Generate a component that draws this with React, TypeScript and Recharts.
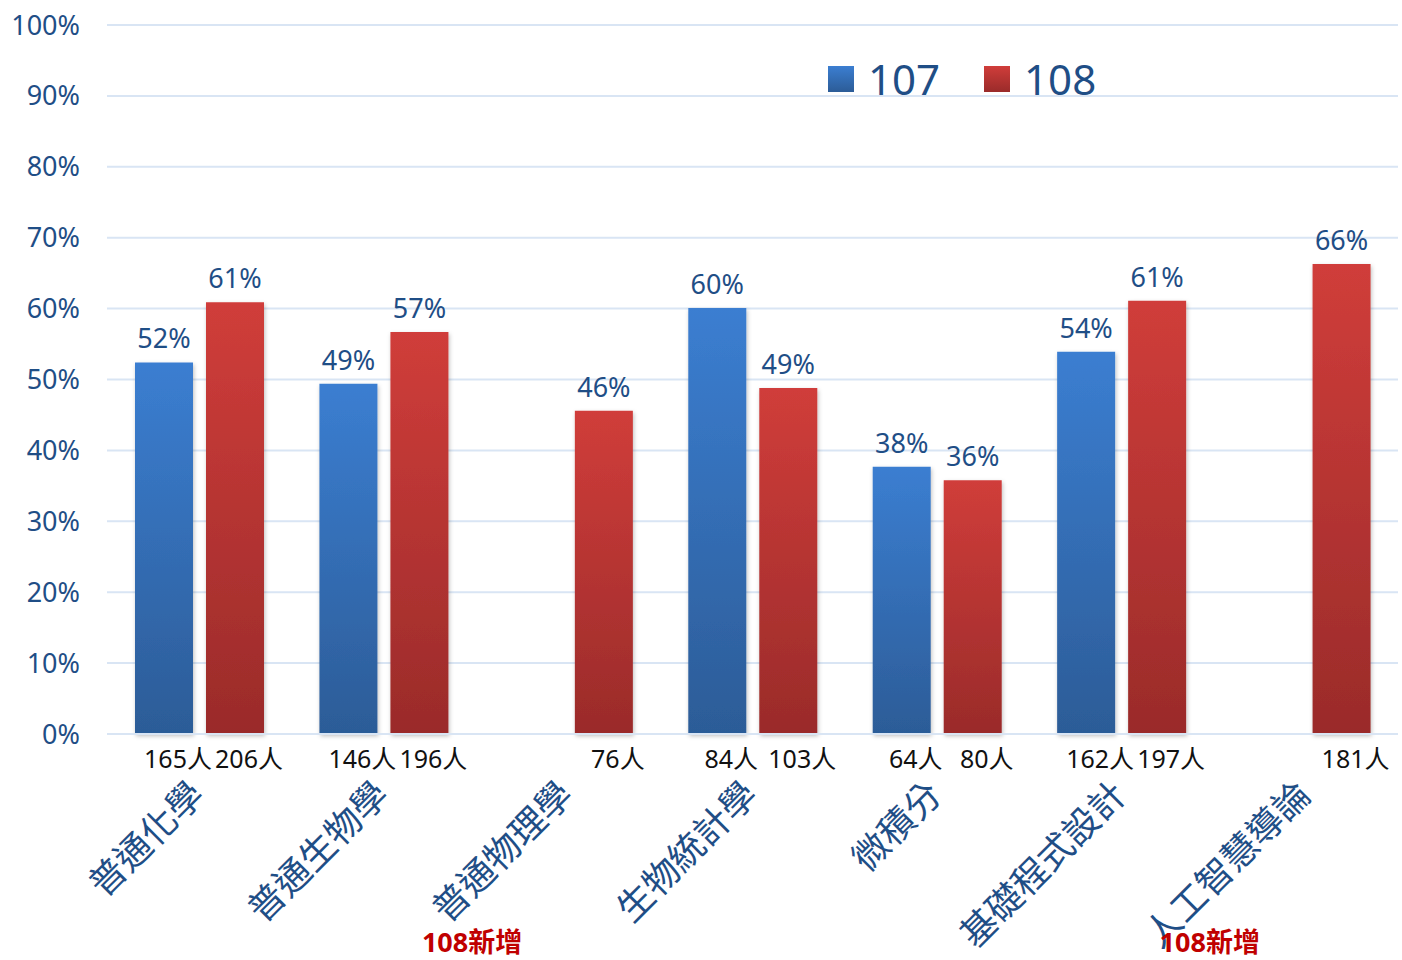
import { BarChart, Bar, XAxis, YAxis, CartesianGrid, LabelList } from 'recharts'

const courses = ['普通化學', '普通生物學', '普通物理學', '生物統計學', '微積分', '基礎程式設計', '人工智慧導論']
const pass107 = [52.4, 49.4, null, 60.1, 37.7, 53.9, null]
const pass108 = [60.9, 56.7, 45.6, 48.8, 35.8, 61.1, 66.3]
const students107 = [165, 146, null, 84, 64, 162, null]
const students108 = [206, 196, 76, 103, 80, 197, 181]
const newIn108 = [false, false, true, false, false, false, true]
const yTicks = [0, 10, 20, 30, 40, 50, 60, 70, 80, 90, 100]

const data = courses.map((name, i) => ({
  name,
  y107: pass107[i],
  y108: pass108[i],
  n107: students107[i],
  n108: students108[i],
}))

const FONT = '"Noto Sans", "Noto Sans CJK TC", sans-serif'
const NAVY = '#1f4e86'

function PctLabel(props: any) {
  const { x, y, width, value } = props
  if (value == null) return null
  return (
    <text x={x + width / 2} y={y - 14} textAnchor="middle" fill={NAVY} fontSize={27} fontFamily={FONT}>
      {Math.round(value)}%
    </text>
  )
}

function CountLabel(props: any) {
  const { x, y, width, height, value } = props
  if (value == null) return null
  return (
    <text x={x + width / 2 + 14} y={y + height + 34} textAnchor="middle" fill="#111" fontSize={25} fontFamily={FONT}>
      {value}人
    </text>
  )
}

function CourseTick(props: any) {
  const { x, y, payload, index } = props
  const ax = x + 7
  const ay = y + 63
  return (
    <g>
      <text
        x={ax}
        y={ay}
        textAnchor="end"
        fill={NAVY}
        fontSize={36}
        fontFamily={FONT}
        transform={`rotate(-45 ${ax} ${ay})`}
      >
        {payload.value}
      </text>
      {newIn108[index] && (
        <text x={x - 96} y={y + 218} textAnchor="middle" fill="#c00000" fontSize={27} fontWeight="bold" fontFamily={FONT}>
          108新增
        </text>
      )}
    </g>
  )
}

function LegendBox() {
  const items = [
    { label: '107', fill: 'url(#bar107)' },
    { label: '108', fill: 'url(#bar108)' },
  ]
  return (
    <div style={{ position: 'absolute', left: 828, top: 58, display: 'flex', gap: 44, fontFamily: FONT }}>
      {items.map(it => (
        <div key={it.label} style={{ display: 'flex', alignItems: 'center', gap: 14 }}>
          <svg width={26} height={26}>
            <rect width={26} height={26} fill={it.fill} />
          </svg>
          <span style={{ fontSize: 42, color: NAVY, lineHeight: '42px' }}>{it.label}</span>
        </div>
      ))}
    </div>
  )
}

export default function App() {
  return (
    <div style={{ position: 'absolute', left: 0, top: 0, width: 1402, height: 960, background: '#fff' }}>
      <BarChart
        width={1402}
        height={960}
        data={data}
        margin={{ top: 25, right: 4, left: 0, bottom: 0 }}
        barSize={58}
        barGap={13}
      >
        <defs>
          <linearGradient id="bar107" x1="0" y1="0" x2="0" y2="1">
            <stop offset="0%" stopColor="#3b7ed1" />
            <stop offset="100%" stopColor="#2c5c97" />
          </linearGradient>
          <linearGradient id="bar108" x1="0" y1="0" x2="0" y2="1">
            <stop offset="0%" stopColor="#d03d3a" />
            <stop offset="100%" stopColor="#9a2b2a" />
          </linearGradient>
          <filter id="barShadow" x="-20%" y="-5%" width="140%" height="115%">
            <feDropShadow dx="1" dy="2" stdDeviation="2" floodColor="#000" floodOpacity="0.25" />
          </filter>
        </defs>
        <CartesianGrid vertical={false} stroke="#d9e5f4" strokeWidth={2} />
        <XAxis
          dataKey="name"
          height={226}
          interval={0}
          tickLine={false}
          tickSize={0}
          tickMargin={0}
          axisLine={{ stroke: '#d9e5f4', strokeWidth: 2 }}
          tick={<CourseTick />}
        />
        <YAxis
          width={107}
          domain={[0, 100]}
          ticks={yTicks}
          tickFormatter={v => `${v}%`}
          axisLine={false}
          tickLine={false}
          tickSize={0}
          tickMargin={27}
          tick={{ fill: NAVY, fontSize: 27, fontFamily: FONT }}
        />
        <Bar dataKey="y107" name="107" fill="url(#bar107)" filter="url(#barShadow)" isAnimationActive={false}>
          <LabelList dataKey="y107" content={<PctLabel />} />
          <LabelList dataKey="n107" content={<CountLabel />} />
        </Bar>
        <Bar dataKey="y108" name="108" fill="url(#bar108)" filter="url(#barShadow)" isAnimationActive={false}>
          <LabelList dataKey="y108" content={<PctLabel />} />
          <LabelList dataKey="n108" content={<CountLabel />} />
        </Bar>
      </BarChart>
      <LegendBox />
    </div>
  )
}
